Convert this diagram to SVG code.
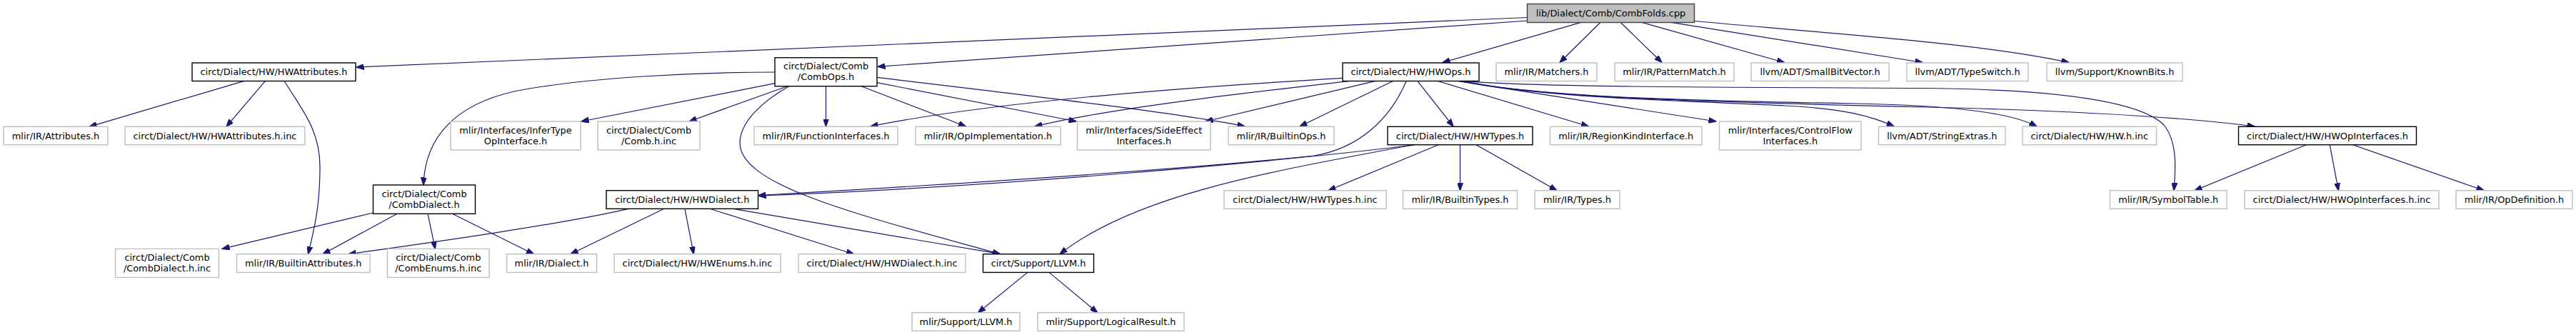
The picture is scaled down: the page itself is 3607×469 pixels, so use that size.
<svg xmlns="http://www.w3.org/2000/svg" width="3607" height="469" viewBox="0 0 3607 469">
<style>
text{font-family:"DejaVu Sans","Liberation Sans",sans-serif;font-size:12.9px;fill:#000;text-anchor:middle}
.g rect{fill:#fff;stroke:#bfbfbf;stroke-width:1.4}
.k rect{fill:#fff;stroke:#000;stroke-width:1.4}
.r rect{fill:#bfbfbf;stroke:#404040;stroke-width:1.4}
#edges path{fill:none;stroke:#191970;stroke-width:1.2;marker-end:url(#a)}
</style>
<defs>
<marker id="a" viewBox="0 0 11 8" refX="10.5" refY="4" markerWidth="11" markerHeight="8" markerUnits="userSpaceOnUse" orient="auto">
<path d="M0,0 L11,4 L0,8 z" fill="#191970" stroke="#191970" stroke-width="1"/>
</marker>
</defs>
<rect width="3607" height="469" fill="#fff"/>
<g id="edges">
<path d="M2138.5,24.5 L499,94"/>
<path d="M2138.5,29 L1229,93.3"/>
<path d="M2213.7,31.3 L2020,87.5"/>
<path d="M2241,31.3 L2184,87.5"/>
<path d="M2269,31.3 L2327,87.5"/>
<path d="M2299,31.3 L2498.5,87.5"/>
<path d="M2340,31.3 L2692,87.5"/>
<path d="M2372.5,29.5 C2600,50 2780,62 2897,87.5"/>
<path d="M342,113.3 L125,177.3"/>
<path d="M371.4,113.3 L316.9,177.3"/>
<path d="M398,113.3 C420,150 448,180 448,233 C448,290 440,320 431.5,355.7"/>
<path d="M1085,101 C980,101 820,108 720,128 C640,146 595,190 593,259"/>
<path d="M1085,116.7 L814,170"/>
<path d="M1102.5,120.7 L965,170"/>
<path d="M1156.5,120.7 L1156.5,177"/>
<path d="M1206,120.7 L1352.5,177"/>
<path d="M1228,115.7 L1507,170"/>
<path d="M1228,108.3 C1450,135 1650,158 1743,177"/>
<path d="M1105,120.7 C1070,140 1036,170 1036,200 C1036,260 1200,300 1400,355.7"/>
<path d="M1880,109.3 C1700,120 1400,140 1219,177"/>
<path d="M1888,113.7 C1780,126 1560,150 1449,177"/>
<path d="M1925,113.7 L1688,170"/>
<path d="M1950,113.7 L1820,177"/>
<path d="M1969,113.7 C1945,170 1900,208 1840,218 C1650,238 1300,260 1062,273.5"/>
<path d="M1985,113.7 L2035,177"/>
<path d="M2014,113.7 L2224.5,177"/>
<path d="M2042,113.7 L2403,170"/>
<path d="M2046,113.7 C2150,136 2350,141 2500,148 C2580,152 2620,162 2652,177"/>
<path d="M2048,113.7 C2150,135 2350,141 2600,145 C2750,148 2820,160 2852,177"/>
<path d="M2050,113.7 C2150,136 2350,142 2700,150 C2900,155 3050,163 3157,177"/>
<path d="M2052,113.7 C2150,122 2400,122 2700,123.5 C2900,126 3000,145 3030,175 C3050,200 3046,240 3044,266.7"/>
<path d="M1980,203 C1800,225 1400,262 1062,274"/>
<path d="M1978,203 C1780,240 1590,272 1484,355.7"/>
<path d="M2014,202.7 L1860,266.7"/>
<path d="M2044.5,202.7 L2044.5,266.7"/>
<path d="M2067,202.7 L2180,266.7"/>
<path d="M880,292.3 C780,315 600,340 488,355.7"/>
<path d="M929.8,292.3 L799,355.7"/>
<path d="M958.9,292.3 L971.3,355.7"/>
<path d="M994,292.3 L1195.4,355.7"/>
<path d="M1027,292.3 L1401,355.7"/>
<path d="M522.5,298 L311,348.4"/>
<path d="M556,299.3 L452,355.7"/>
<path d="M599,299.3 L609.4,348.4"/>
<path d="M633.4,299.3 L747.4,355.7"/>
<path d="M3229.3,202.7 L3073,266.7"/>
<path d="M3262.2,202.7 L3274.4,266.7"/>
<path d="M3294.6,202.7 L3478,266.7"/>
<path d="M1438.7,381.4 L1369.5,437.7"/>
<path d="M1469,381.4 L1536.7,437.7"/>
</g>
<g id="n_root" class="r"><rect x="2138.5" y="5.5" width="234" height="26"/><text x="2255.5" y="23">lib/Dialect/Comb/CombFolds.cpp</text></g>
<g id="n_hwattr" class="k"><rect x="269" y="88" width="229" height="25.5"/><text x="383.5" y="105.2">circt/Dialect/HW/HWAttributes.h</text></g>
<g id="n_combops" class="k"><rect x="1085" y="80.7" width="143" height="40"/><text x="1156.5" y="97.2">circt/Dialect/Comb</text><text x="1156.5" y="112.2">/CombOps.h</text></g>
<g id="n_hwops" class="k"><rect x="1880" y="88" width="191" height="25.5"/><text x="1975.5" y="105.2">circt/Dialect/HW/HWOps.h</text></g>
<g id="n_matchers" class="g"><rect x="2095" y="88" width="141" height="25.5"/><text x="2165.5" y="105.2">mlir/IR/Matchers.h</text></g>
<g id="n_pattern" class="g"><rect x="2261" y="88" width="167" height="25.5"/><text x="2344.5" y="105.2">mlir/IR/PatternMatch.h</text></g>
<g id="n_sbv" class="g"><rect x="2452" y="88" width="193" height="25.5"/><text x="2548.5" y="105.2">llvm/ADT/SmallBitVector.h</text></g>
<g id="n_typeswitch" class="g"><rect x="2670" y="88" width="170" height="25.5"/><text x="2755" y="105.2">llvm/ADT/TypeSwitch.h</text></g>
<g id="n_knownbits" class="g"><rect x="2866" y="88" width="190" height="25.5"/><text x="2961" y="105.2">llvm/Support/KnownBits.h</text></g>
<g id="n_attr" class="g"><rect x="5" y="177.3" width="146" height="25.4"/><text x="78" y="194.5">mlir/IR/Attributes.h</text></g>
<g id="n_hwattrinc" class="g"><rect x="175" y="177.3" width="252" height="25.4"/><text x="301" y="194.5">circt/Dialect/HW/HWAttributes.h.inc</text></g>
<g id="n_infer" class="g"><rect x="631" y="170" width="182" height="40"/><text x="722" y="186.5">mlir/Interfaces/InferType</text><text x="722" y="201.5">OpInterface.h</text></g>
<g id="n_combinc" class="g"><rect x="837" y="170" width="143" height="40"/><text x="908.5" y="186.5">circt/Dialect/Comb</text><text x="908.5" y="201.5">/Comb.h.inc</text></g>
<g id="n_funcif" class="g"><rect x="1056" y="177.3" width="201" height="25.4"/><text x="1156.5" y="194.5">mlir/IR/FunctionInterfaces.h</text></g>
<g id="n_opimpl" class="g"><rect x="1282" y="177.3" width="203" height="25.4"/><text x="1383.5" y="194.5">mlir/IR/OpImplementation.h</text></g>
<g id="n_sideeffect" class="g"><rect x="1508.5" y="170" width="186.5" height="40"/><text x="1601.75" y="186.5">mlir/Interfaces/SideEffect</text><text x="1601.75" y="201.5">Interfaces.h</text></g>
<g id="n_builtinops" class="g"><rect x="1720" y="177.3" width="148" height="25.4"/><text x="1794" y="194.5">mlir/IR/BuiltinOps.h</text></g>
<g id="n_hwtypes" class="k"><rect x="1943" y="177.3" width="203" height="25.4"/><text x="2044.5" y="194.5">circt/Dialect/HW/HWTypes.h</text></g>
<g id="n_regionkind" class="g"><rect x="2170.5" y="177.3" width="212.5" height="25.4"/><text x="2276.75" y="194.5">mlir/IR/RegionKindInterface.h</text></g>
<g id="n_controlflow" class="g"><rect x="2407.5" y="170" width="198.5" height="40"/><text x="2506.75" y="186.5">mlir/Interfaces/ControlFlow</text><text x="2506.75" y="201.5">Interfaces.h</text></g>
<g id="n_stringextras" class="g"><rect x="2630.5" y="177.3" width="177.5" height="25.4"/><text x="2719.25" y="194.5">llvm/ADT/StringExtras.h</text></g>
<g id="n_hwinc" class="g"><rect x="2832" y="177.3" width="187.5" height="25.4"/><text x="2925.75" y="194.5">circt/Dialect/HW/HW.h.inc</text></g>
<g id="n_hwopif" class="k"><rect x="3134.5" y="177.3" width="249" height="25.4"/><text x="3259" y="194.5">circt/Dialect/HW/HWOpInterfaces.h</text></g>
<g id="n_combdialect" class="k"><rect x="522.5" y="259" width="143" height="40.3"/><text x="594" y="275.7">circt/Dialect/Comb</text><text x="594" y="290.7">/CombDialect.h</text></g>
<g id="n_hwdialect" class="k"><rect x="849" y="266.7" width="212.5" height="25.6"/><text x="955.25" y="284">circt/Dialect/HW/HWDialect.h</text></g>
<g id="n_hwtypesinc" class="g"><rect x="1714" y="266.7" width="227" height="25.6"/><text x="1827.5" y="284">circt/Dialect/HW/HWTypes.h.inc</text></g>
<g id="n_builtintypes" class="g"><rect x="1964.5" y="266.7" width="160" height="25.6"/><text x="2044.5" y="284">mlir/IR/BuiltinTypes.h</text></g>
<g id="n_types" class="g"><rect x="2149" y="266.7" width="119" height="25.6"/><text x="2208.5" y="284">mlir/IR/Types.h</text></g>
<g id="n_symboltable" class="g"><rect x="2954.5" y="266.7" width="163.5" height="25.6"/><text x="3036.25" y="284">mlir/IR/SymbolTable.h</text></g>
<g id="n_hwopifinc" class="g"><rect x="3143" y="266.7" width="272" height="25.6"/><text x="3279" y="284">circt/Dialect/HW/HWOpInterfaces.h.inc</text></g>
<g id="n_opdef" class="g"><rect x="3439" y="266.7" width="163" height="25.6"/><text x="3520.5" y="284">mlir/IR/OpDefinition.h</text></g>
<g id="n_combdialectinc" class="g"><rect x="161.5" y="348.4" width="145" height="40"/><text x="234" y="364.9">circt/Dialect/Comb</text><text x="234" y="379.9">/CombDialect.h.inc</text></g>
<g id="n_builtinattr" class="g"><rect x="331.5" y="355.7" width="186.5" height="25.7"/><text x="424.75" y="373">mlir/IR/BuiltinAttributes.h</text></g>
<g id="n_combenums" class="g"><rect x="542.5" y="348.4" width="142.5" height="40"/><text x="613.75" y="364.9">circt/Dialect/Comb</text><text x="613.75" y="379.9">/CombEnums.h.inc</text></g>
<g id="n_dialect" class="g"><rect x="709.5" y="355.7" width="126" height="25.7"/><text x="772.5" y="373">mlir/IR/Dialect.h</text></g>
<g id="n_hwenums" class="g"><rect x="860" y="355.7" width="233" height="25.7"/><text x="976.5" y="373">circt/Dialect/HW/HWEnums.h.inc</text></g>
<g id="n_hwdialectinc" class="g"><rect x="1118" y="355.7" width="234" height="25.7"/><text x="1235" y="373">circt/Dialect/HW/HWDialect.h.inc</text></g>
<g id="n_circtllvm" class="k"><rect x="1376.5" y="355.7" width="155" height="25.7"/><text x="1454" y="373">circt/Support/LLVM.h</text></g>
<g id="n_mlirllvm" class="g"><rect x="1277" y="437.7" width="151" height="25.6"/><text x="1352.5" y="455">mlir/Support/LLVM.h</text></g>
<g id="n_logical" class="g"><rect x="1453" y="437.7" width="205" height="25.6"/><text x="1555.5" y="455">mlir/Support/LogicalResult.h</text></g>
</svg>
